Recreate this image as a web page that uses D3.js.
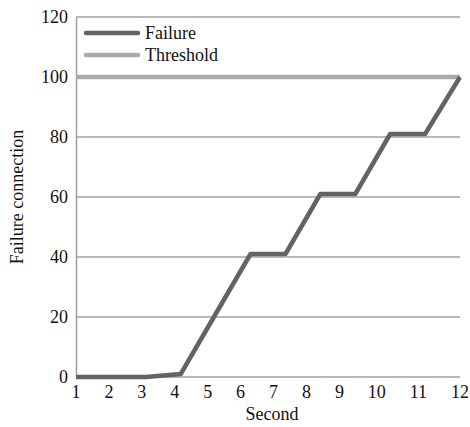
<!DOCTYPE html>
<html>
<head>
<meta charset="utf-8">
<script src="https://cdn.jsdelivr.net/npm/d3@7"></script>
<style>
  body { margin: 0; background: white; }
  text { font-family: "Liberation Serif", "DejaVu Serif", serif; }
</style>
</head>
<body>
<div id="chart"></div>
<script>
// data
var seconds = [1, 2, 3, 4, 5, 6, 7, 8, 9, 10, 11, 12]
var failure = [0, 0, 0, 1, 21, 41, 41, 61, 61, 81, 81, 100]
var threshold = [100, 100, 100, 100, 100, 100, 100, 100, 100, 100, 100, 100]
var yTicks = [0, 20, 40, 60, 80, 100, 120]

var width = 470, height = 427
var margin = { top: 17, right: 10, bottom: 50, left: 76 }
var w = width - margin.left - margin.right
var h = height - margin.top - margin.bottom
var fs = 18

const svg = d3.select('#chart')
    .append('svg')
    .attr('width', width)
    .attr('height', height)

const g = svg.append('g')
    .attr('transform', `translate(${margin.left},${margin.top})`)

var x = d3.scaleLinear().domain([1, 12]).range([0, w])
var y = d3.scaleLinear().domain([0, 120]).range([h, 0])

// gridlines
g.append('g')
    .selectAll('line')
    .data(yTicks)
    .join('line')
    .attr('x1', 0)
    .attr('x2', w)
    .attr('y1', d => y(d))
    .attr('y2', d => y(d))
    .attr('stroke', '#a0a0a0')
    .attr('stroke-width', 1.5)

// y axis
var yAxis = g.append('g')
    .call(d3.axisLeft(y).tickValues(yTicks).tickSize(0).tickPadding(8))
yAxis.select('.domain').attr('stroke', '#a0a0a0').attr('stroke-width', 1.5)
yAxis.selectAll('text')
    .attr('font-size', fs)
    .attr('fill', '#111')
    .style('font-family', '"Liberation Serif", serif')

// x labels: laid out like a justified text run between first and last tick
var xAxis = g.append('g')
    .attr('transform', `translate(0,${h})`)
    .call(d3.axisBottom(x).tickValues(seconds).tickFormat(d3.format('d')).tickSize(0).tickPadding(8))
xAxis.select('.domain').remove()
xAxis.selectAll('text')
    .attr('font-size', fs)
    .attr('fill', '#111')
    .style('font-family', '"Liberation Serif", serif')

var labels = xAxis.selectAll('.tick text').nodes()
var widths = labels.map(n => n.getComputedTextLength())
var span = x(12) - x(1)
var inner = d3.sum(widths) - widths[0] / 2 - widths[widths.length - 1] / 2
var gap = (span - inner) / (labels.length - 1)
var pos = x(1)
xAxis.selectAll('.tick').each(function (d, i) {
    if (i > 0) pos += (widths[i - 1] + widths[i]) / 2 + gap
    d3.select(this).attr('transform', `translate(${pos},0)`)
})

// lines
var line = d3.line()
    .x((d, i) => x(seconds[i]))
    .y(d => y(d))

g.append('path')
    .datum(threshold)
    .attr('d', line)
    .attr('fill', 'none')
    .attr('stroke', '#aaaaaa')
    .attr('stroke-width', 4.5)

g.append('path')
    .datum(failure)
    .attr('d', line)
    .attr('fill', 'none')
    .attr('stroke', '#636363')
    .attr('stroke-width', 4.5)
    .attr('stroke-linejoin', 'round')

// legend
var legend = g.append('g').attr('transform', 'translate(10,16)')
var items = [{ name: 'Failure', color: '#636363' }, { name: 'Threshold', color: '#aaaaaa' }]
items.forEach((it, i) => {
    legend.append('line')
        .attr('x1', 0).attr('x2', 52)
        .attr('y1', i * 22).attr('y2', i * 22)
        .attr('stroke', it.color)
        .attr('stroke-width', 4.5)
        .attr('stroke-linecap', 'round')
    legend.append('text')
        .attr('x', 59).attr('y', i * 22)
        .attr('dy', '0.35em')
        .attr('font-size', fs)
        .attr('fill', '#111')
        .text(it.name)
})

// axis titles
svg.append('text')
    .attr('x', margin.left + w / 2 + 4)
    .attr('y', height - 7)
    .attr('text-anchor', 'middle')
    .attr('font-size', fs)
    .attr('fill', '#111')
    .text('Second')

svg.append('text')
    .attr('transform', `translate(23,${margin.top + h / 2}) rotate(-90)`)
    .attr('text-anchor', 'middle')
    .attr('font-size', fs)
    .attr('fill', '#111')
    .text('Failure connection')
</script>
</body>
</html>
